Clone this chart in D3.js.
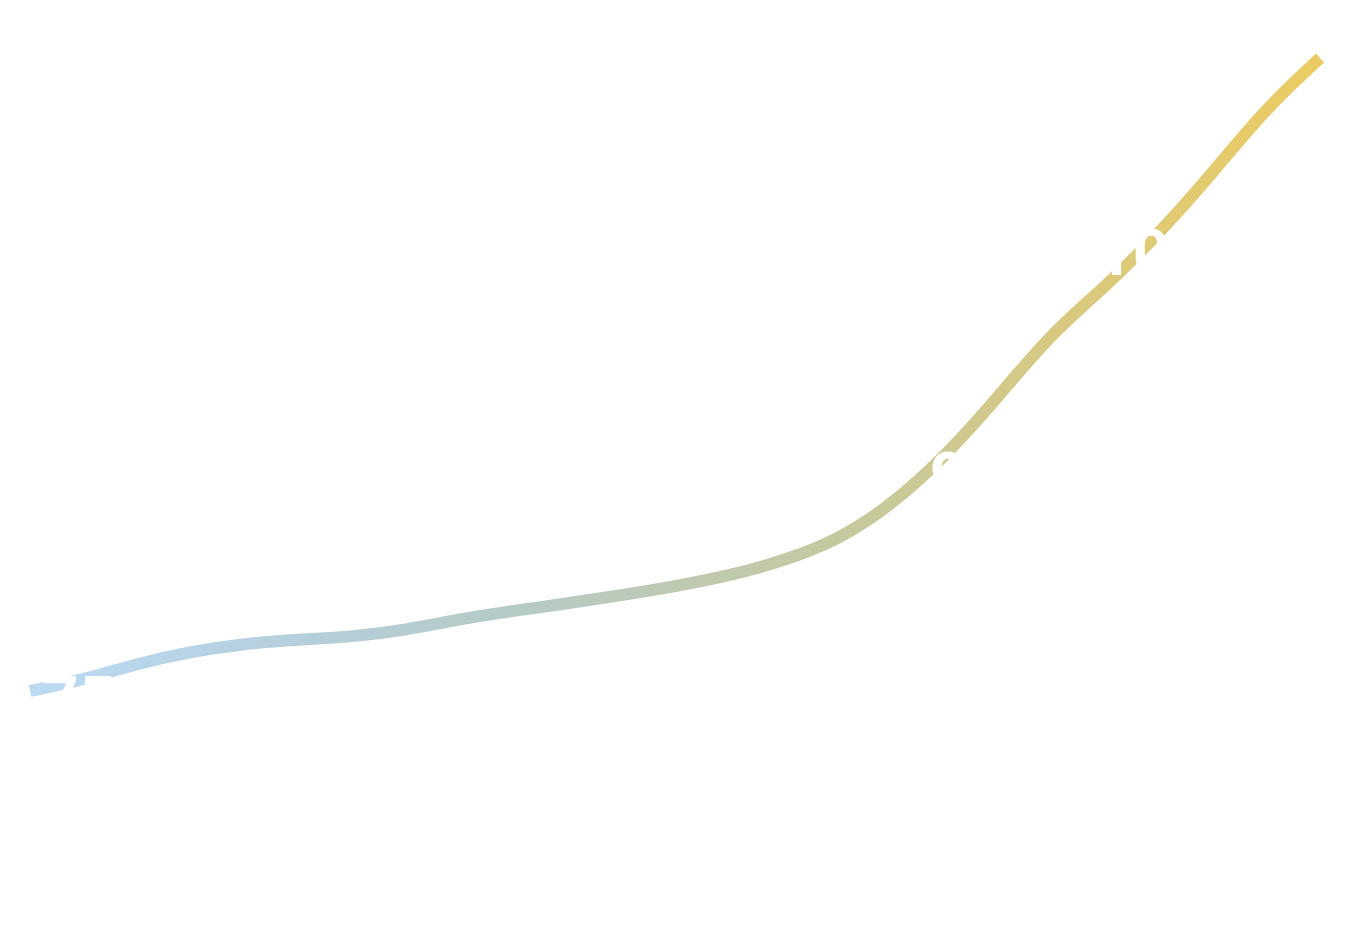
<!DOCTYPE html>
<html>
<head>
<meta charset="utf-8">
<script src="https://cdn.jsdelivr.net/npm/d3@7"></script>
<style>
  body { margin: 0; background: #fff; }
  svg { display: block; }
</style>
</head>
<body>
<div id="chart"></div>
<script>
// data
const years = [1996, 1997, 1998, 1999, 2000, 2001, 2002, 2003, 2004, 2005, 2006, 2007, 2008,
               2009, 2010, 2011, 2012, 2013, 2014, 2015, 2016, 2017, 2018, 2019, 2020];
const values = [14.7, 16.2, 18.4, 20.0, 21.1, 21.6, 22.0, 22.9, 24.4, 25.5, 26.5, 27.6, 28.8,
                30.2, 32.2, 34.9, 39.6, 46.1, 54.2, 62.9, 69.1, 76.3, 84.5, 93.3, 100.0];

// annotated points (white labels, drawn on top of the line)
const labelYears = [1997, 2013, 2016];
const labelTexts = ["75", "90", "105"];

// colours along the line (left to right)
const gradientColors = ["#bcdaf3", "#b8d3e6", "#b4cdd6", "#b6cbc6", "#bdcab2", "#c5c9a0", "#d2c98a", "#e0ca74", "#eccb62"];

const width = 1350;
const height = 945;

const data = years.map((y, i) => ({ year: y, value: values[i] }));

const svg = d3.select("#chart")
    .append("svg")
    .attr("width", width)
    .attr("height", height);

const xScale = d3.scaleLinear()
    .domain(d3.extent(years))
    .range([30, 1320]);

const yScale = d3.scaleLinear()
    .domain([0, 100])
    .range([800, 58]);

/*********************************************/
/*              gradient                      */
/*********************************************/
const defs = svg.append("defs");
const grad = defs.append("linearGradient")
    .attr("id", "line-gradient")
    .attr("gradientUnits", "userSpaceOnUse")
    .attr("x1", xScale(years[0]))
    .attr("x2", xScale(years[years.length - 1]))
    .attr("y1", 0)
    .attr("y2", 0);

grad.selectAll("stop")
    .data(gradientColors)
    .join("stop")
    .attr("offset", (d, i) => `${i / (gradientColors.length - 1) * 100}%`)
    .attr("stop-color", d => d);

/*********************************************/
/*              draw line                     */
/*********************************************/
const lineGenerator = d3.line()
    .x(d => xScale(d.year))
    .y(d => yScale(d.value))
    .curve(d3.curveBasis);

svg.append("path")
    .datum(data)
    .attr("d", lineGenerator)
    .attr("fill", "none")
    .attr("stroke", "url(#line-gradient)")
    .attr("stroke-width", 12);

// small white notch at the last point
const last = data[data.length - 1];
svg.append("circle")
    .attr("cx", xScale(last.year) + 5)
    .attr("cy", yScale(last.value) - 2)
    .attr("r", 5)
    .attr("fill", "white");

/*********************************************/
/*              labels                        */
/*********************************************/
// label offsets from their point, in px
const labelDx = [-42, -14, -9];
const labelDy = [42, 40, -12];

svg.selectAll(".label")
    .data(labelYears)
    .join("text")
    .attr("class", "label")
    .attr("x", (d, i) => xScale(d) + labelDx[i])
    .attr("y", (d, i) => yScale(values[years.indexOf(d)]) + labelDy[i])
    .attr("fill", "white")
    .style("font-family", "Roboto, 'Noto Sans', sans-serif")
    .style("font-size", "64px")
    .style("font-weight", 700)
    .text((d, i) => labelTexts[i]);
</script>
</body>
</html>
